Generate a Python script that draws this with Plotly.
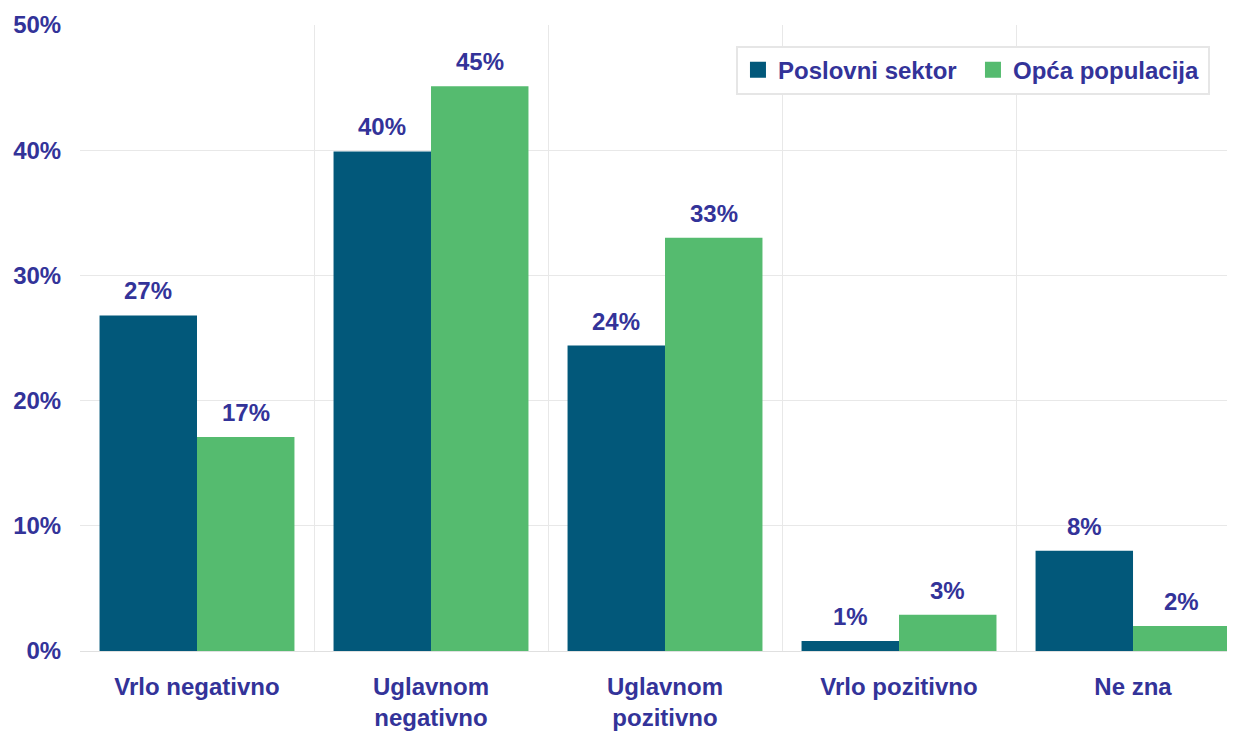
import plotly.graph_objects as go

categories = ["Vrlo negativno", "Uglavnom<br>negativno", "Uglavnom<br>pozitivno", "Vrlo pozitivno", "Ne zna"]
series_names = ["Poslovni sektor", "Opća populacija"]
poslovni = [26.8, 39.9, 24.4, 0.8, 8.0]
opca = [17.1, 45.1, 33.0, 2.9, 2.0]
y_ticks = [0, 10, 20, 30, 40, 50]

TXT = "#333399"
FONT = "Liberation Sans, Arial, sans-serif"
FS = 24
colors = ["#02587A", "#55BB6F"]

fig = go.Figure()
for name, vals, col in zip(series_names, [poslovni, opca], colors):
    fig.add_trace(go.Bar(x=categories, y=vals, name=name, showlegend=False,
                         marker=dict(color=col, line=dict(width=0))))
# legend entries with larger square swatches
for name, col in zip(series_names, colors):
    fig.add_trace(go.Scatter(x=[categories[0]], y=[None], mode="markers", name=f"<b>{name}</b>",
                             marker=dict(symbol="square", size=16, color=col, line=dict(width=0)),
                             hoverinfo="skip"))

W, H = 1235, 731
ml, mr, mt, mb = 72, 0, 17, 88
xr = [-0.5, 4.47]
cat_px = (W - ml - mr) / (xr[1] - xr[0])
bargap = 0.167
bw = cat_px * (1 - bargap) / 2

for k, vals in enumerate([poslovni, opca]):
    shift = (-0.5 if k == 0 else 0.5) * bw
    for c, v in zip(categories, vals):
        fig.add_annotation(x=c, y=v, xref="x", yref="y", text=f"<b>{round(v):.0f}%</b>",
                           showarrow=False, xshift=shift, yanchor="bottom", yshift=9,
                           font=dict(family=FONT, size=FS, color=TXT))

fig.update_layout(
    width=W, height=H,
    margin=dict(l=ml, r=mr, t=mt, b=mb),
    paper_bgcolor="white", plot_bgcolor="white",
    barmode="group", bargap=bargap, bargroupgap=0,
    font=dict(family=FONT, size=FS, color=TXT),
    showlegend=True,
    legend=dict(orientation="h", x=0.9716, xanchor="right", y=0.967, yanchor="top",
                bgcolor="white", bordercolor="#E6E6E6", borderwidth=2,
                entrywidth=190, entrywidthmode="pixels",
                font=dict(family=FONT, size=FS, color=TXT), traceorder="normal"),
    xaxis=dict(range=xr, tickson="boundaries", showgrid=True, gridcolor="#E8E8E8", gridwidth=1,
               ticks="", ticklabelstandoff=14,
               tickvals=categories, ticktext=[f"<b>{c}</b>" for c in categories],
               tickfont=dict(family=FONT, size=FS, color=TXT),
               showline=True, linecolor="#E0E0E0", linewidth=1, fixedrange=True),
    yaxis=dict(range=[0, 50], tickvals=y_ticks, ticktext=[f"<b>{t}%</b>" for t in y_ticks],
               showgrid=True, gridcolor="#E8E8E8", gridwidth=1, zeroline=False,
               ticks="outside", ticklen=13, tickcolor="rgba(0,0,0,0)",
               tickfont=dict(family=FONT, size=FS, color=TXT), showline=False),
)
fig.write_html("out.html")
